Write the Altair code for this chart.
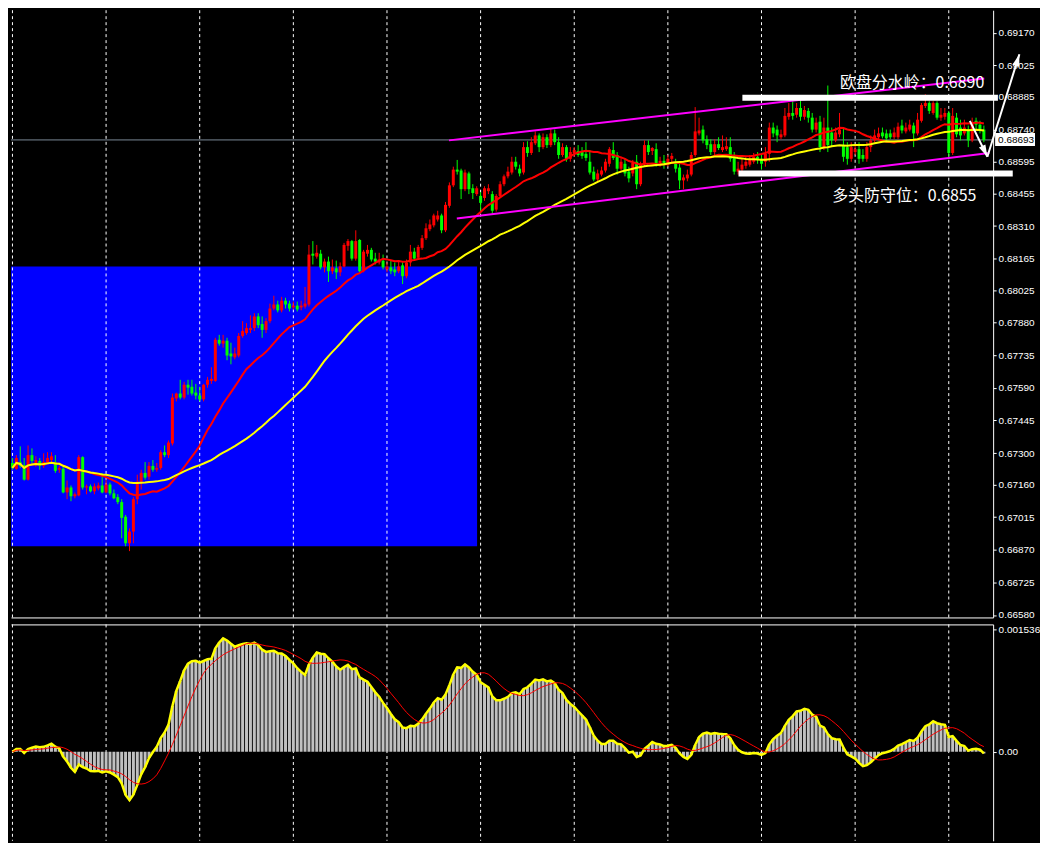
import altair as alt
import numpy as np
import pandas as pd

# ---------------- OHLC (bar index 0..249) ----------------
opens = [
    .67256, .67230, .67260, .67247, .67182, .67291, .67247, .67265, .67243, .67260,
    .67269, .67260, .67226, .67230, .67125, .67147, .67108, .67112, .67282, .67147,
    .67152, .67130, .67143, .67156, .67125, .67160, .67121, .67104, .67082, .67017,
    .66899, .66951, .67095, .67173, .67212, .67195, .67243, .67226, .67234, .67304,
    .67291, .67343, .67543, .67565, .67547, .67604, .67595, .67569, .67556, .67539,
    .67604, .67621, .67621, .67804, .67787, .67800, .67743, .67726, .67734, .67821,
    .67834, .67848, .67856, .67908, .67874, .67848, .67887, .67943, .67961, .67935,
    .67978, .67965, .67948, .67956, .67948, .67952, .67961, .68187, .68174, .68187,
    .68126, .68152, .68109, .68122, .68104, .68130, .68222, .68243, .68165, .68248,
    .68109, .68187, .68204, .68165, .68148, .68156, .68117, .68126, .68117, .68109,
    .68135, .68087, .68148, .68196, .68169, .68213, .68256, .68296, .68313, .68339,
    .68357, .68291, .68400, .68491, .68561, .68557, .68474, .68544, .68478, .68452,
    .68444, .68435, .68465, .68452, .68383, .68444, .68496, .68531, .68548, .68596,
    .68565, .68548, .68661, .68635, .68678, .68713, .68661, .68705, .68670, .68722,
    .68683, .68626, .68661, .68609, .68635, .68644, .68639, .68631, .68596, .68552,
    .68517, .68539, .68557, .68587, .68648, .68626, .68565, .68587, .68552, .68544,
    .68596, .68496, .68587, .68670, .68644, .68652, .68587, .68600, .68587, .68609,
    .68587, .68570, .68513, .68522, .68539, .68626, .68722, .68739, .68696, .68674,
    .68639, .68674, .68648, .68652, .68661, .68618, .68552, .68561, .68578, .68583,
    .68596, .68618, .68609, .68596, .68631, .68748, .68739, .68705, .68713, .68796,
    .68813, .68805, .68835, .68796, .68822, .68792, .68739, .68774, .68661, .68748,
    .68726, .68691, .68718, .68670, .68661, .68609, .68639, .68652, .68626, .68609,
    .68661, .68691, .68705, .68726, .68722, .68722, .68705, .68705, .68757, .68731,
    .68739, .68757, .68722, .68778, .68844, .68857, .68813, .68857, .68792, .68796,
    .68813, .68635, .68792, .68748, .68722, .68739, .68691, .68778, .68761, .68739,
]
highs = [
    .67278, .67291, .67330, .67278, .67334, .67321, .67286, .67278, .67299, .67304,
    .67304, .67291, .67243, .67247, .67178, .67156, .67125, .67291, .67286, .67160,
    .67160, .67165, .67169, .67212, .67182, .67169, .67138, .67117, .67095, .67025,
    .66965, .67104, .67204, .67226, .67260, .67260, .67269, .67256, .67313, .67334,
    .67356, .67565, .67569, .67626, .67617, .67626, .67626, .67608, .67595, .67608,
    .67639, .67682, .67813, .67826, .67826, .67813, .67791, .67769, .67834, .67887,
    .67878, .67913, .67922, .67922, .67908, .67900, .67965, .68000, .67978, .67995,
    .67991, .67978, .67974, .67974, .67978, .68039, .68226, .68243, .68226, .68204,
    .68165, .68174, .68161, .68156, .68148, .68235, .68252, .68248, .68291, .68252,
    .68204, .68226, .68213, .68191, .68191, .68183, .68148, .68156, .68148, .68152,
    .68148, .68161, .68226, .68213, .68226, .68270, .68322, .68339, .68365, .68378,
    .68365, .68417, .68504, .68574, .68604, .68565, .68561, .68552, .68496, .68487,
    .68461, .68487, .68496, .68465, .68452, .68509, .68539, .68574, .68618, .68618,
    .68583, .68683, .68687, .68705, .68731, .68722, .68722, .68718, .68744, .68739,
    .68705, .68678, .68670, .68661, .68661, .68670, .68661, .68683, .68648, .68574,
    .68561, .68574, .68609, .68661, .68683, .68639, .68618, .68609, .68574, .68604,
    .68626, .68596, .68691, .68691, .68661, .68678, .68618, .68626, .68626, .68635,
    .68609, .68596, .68539, .68561, .68639, .68839, .68792, .68757, .68713, .68696,
    .68696, .68705, .68713, .68705, .68705, .68639, .68596, .68609, .68618, .68626,
    .68635, .68639, .68626, .68661, .68770, .68770, .68757, .68739, .68835, .68857,
    .68870, .68857, .68870, .68844, .68835, .68813, .68792, .68800, .68792, .68935,
    .68748, .68748, .68813, .68748, .68683, .68683, .68670, .68683, .68652, .68683,
    .68713, .68739, .68748, .68748, .68739, .68739, .68748, .68770, .68783, .68770,
    .68783, .68770, .68813, .68857, .68896, .68865, .68865, .68865, .68835, .68835,
    .68822, .68835, .68813, .68783, .68783, .68757, .68792, .68792, .68778, .68757,
]
lows = [
    .67226, .67226, .67234, .67178, .67178, .67256, .67239, .67226, .67234, .67256,
    .67260, .67212, .67212, .67121, .67095, .67086, .67099, .67108, .67138, .67117,
    .67125, .67117, .67134, .67121, .67121, .67112, .67095, .67073, .66921, .66886,
    .66864, .66899, .67073, .67138, .67182, .67182, .67217, .67217, .67226, .67282,
    .67278, .67334, .67530, .67539, .67539, .67560, .67556, .67539, .67530, .67530,
    .67591, .67608, .67617, .67778, .67769, .67713, .67695, .67717, .67726, .67813,
    .67826, .67834, .67843, .67856, .67813, .67834, .67878, .67935, .67926, .67926,
    .67943, .67930, .67939, .67930, .67935, .67943, .67952, .68139, .68165, .68117,
    .68104, .68061, .68096, .68074, .68087, .68126, .68200, .68156, .68156, .68104,
    .68104, .68174, .68152, .68139, .68139, .68117, .68104, .68096, .68087, .68100,
    .68052, .68078, .68130, .68156, .68161, .68204, .68248, .68287, .68304, .68330,
    .68278, .68283, .68391, .68483, .68539, .68430, .68465, .68452, .68430, .68444,
    .68378, .68422, .68452, .68365, .68374, .68435, .68487, .68522, .68539, .68561,
    .68531, .68539, .68618, .68626, .68670, .68639, .68652, .68657, .68661, .68670,
    .68609, .68618, .68596, .68596, .68618, .68618, .68609, .68600, .68539, .68509,
    .68509, .68531, .68548, .68574, .68604, .68539, .68557, .68531, .68504, .68531,
    .68474, .68487, .68574, .68626, .68626, .68574, .68574, .68565, .68574, .68591,
    .68548, .68474, .68474, .68509, .68531, .68618, .68713, .68678, .68652, .68626,
    .68626, .68648, .68639, .68644, .68596, .68539, .68539, .68548, .68565, .68574,
    .68587, .68587, .68561, .68574, .68596, .68705, .68683, .68696, .68705, .68783,
    .68783, .68792, .68778, .68783, .68770, .68726, .68726, .68639, .68648, .68639,
    .68661, .68683, .68705, .68596, .68583, .68596, .68626, .68587, .68596, .68596,
    .68639, .68683, .68691, .68700, .68691, .68696, .68696, .68696, .68722, .68722,
    .68731, .68661, .68713, .68770, .68835, .68809, .68805, .68783, .68778, .68783,
    .68618, .68626, .68705, .68691, .68713, .68661, .68683, .68739, .68722, .68683,
]
closes = [
    .67234, .67278, .67243, .67182, .67291, .67265, .67269, .67243, .67260, .67278,
    .67286, .67221, .67234, .67125, .67147, .67108, .67117, .67282, .67147, .67152,
    .67130, .67152, .67156, .67125, .67160, .67121, .67099, .67082, .67012, .66899,
    .66951, .67095, .67173, .67212, .67191, .67243, .67226, .67234, .67304, .67291,
    .67347, .67547, .67565, .67547, .67604, .67591, .67565, .67556, .67539, .67604,
    .67626, .67630, .67804, .67787, .67800, .67734, .67730, .67743, .67821, .67843,
    .67856, .67856, .67908, .67869, .67848, .67887, .67943, .67961, .67935, .67978,
    .67961, .67943, .67956, .67939, .67956, .67965, .68183, .68178, .68191, .68126,
    .68152, .68109, .68126, .68104, .68130, .68226, .68243, .68165, .68243, .68109,
    .68196, .68204, .68161, .68152, .68161, .68126, .68130, .68109, .68104, .68130,
    .68087, .68148, .68196, .68165, .68217, .68256, .68300, .68317, .68357, .68357,
    .68291, .68404, .68491, .68561, .68552, .68474, .68548, .68474, .68457, .68478,
    .68413, .68478, .68478, .68378, .68444, .68496, .68531, .68552, .68596, .68574,
    .68544, .68661, .68635, .68683, .68713, .68661, .68705, .68670, .68722, .68683,
    .68626, .68661, .68609, .68639, .68648, .68626, .68622, .68613, .68548, .68517,
    .68544, .68557, .68596, .68652, .68613, .68565, .68596, .68544, .68522, .68591,
    .68496, .68587, .68670, .68639, .68657, .68587, .68600, .68583, .68609, .68622,
    .68565, .68513, .68526, .68539, .68626, .68731, .68735, .68691, .68670, .68639,
    .68674, .68657, .68661, .68665, .68609, .68552, .68565, .68583, .68596, .68604,
    .68618, .68604, .68587, .68631, .68748, .68722, .68713, .68718, .68800, .68813,
    .68800, .68835, .68796, .68826, .68792, .68739, .68770, .68661, .68748, .68670,
    .68691, .68726, .68739, .68618, .68609, .68661, .68652, .68609, .68609, .68661,
    .68691, .68713, .68722, .68709, .68700, .68705, .68726, .68752, .68735, .68748,
    .68761, .68722, .68783, .68848, .68857, .68822, .68857, .68792, .68805, .68813,
    .68635, .68800, .68718, .68713, .68748, .68691, .68770, .68761, .68739, .68693,
]

# ---------------- axis labels, grid ----------------
price_ticks = [0.69170, 0.69025, 0.68885, 0.68740, 0.68595, 0.68455, 0.68310,
               0.68165, 0.68025, 0.67880, 0.67735, 0.67590, 0.67445, 0.67300,
               0.67160, 0.67015, 0.66870, 0.66725, 0.66580]
macd_ticks = [0.001536, 0.0]
grid_bars = [0, 24, 48, 72, 96, 120, 144, 168, 192, 216, 240]

# ---------------- drawn objects (bar index / price anchors) ----------------
box_bars = [-0.375, 119.1]
box_prices = [0.66886, 0.68130]

channel_names = ["upper", "lower"]
channel_bars = [[111.9, 249.1], [113.9, 250.4]]
channel_prices = [[0.68691, 0.68966], [0.68343, 0.68635]]

level_bars = [[187.1, 252.6], [186.1, 256.4]]
level_prices = [0.68881, 0.68544]

note_texts = ["欧盘分水岭：0.6890", "多头防守位：0.6855"]
note_bars = [249.1, 247.1]
note_prices = [0.68944, 0.68444]

arrow_from_bars = [245.4, 249.9]
arrow_from_prices = [0.68778, 0.68618]
arrow_to_bars = [249.9, 258.1]
arrow_to_prices = [0.68618, 0.69074]
arrow_angles = [154, 17]

n = len(closes)
assert len(opens) == n and len(highs) == n and len(lows) == n

df = pd.DataFrame({"bar": list(range(n)), "open": opens, "high": highs,
                   "low": lows, "close": closes})
df["dir"] = np.where(df["close"] >= df["open"], "up", "down")

# MACD (12, 26, 9) from the closes, as MT4 computes it
cs = pd.Series(closes)
macd = cs.ewm(span=12, adjust=False).mean() - cs.ewm(span=26, adjust=False).mean()
signal = macd.rolling(9, min_periods=1).mean()
mdf = pd.DataFrame({"bar": list(range(n)), "macd": macd, "signal": signal, "zero": 0.0})

W = 985
H1 = 609
H2 = 217

LABEL_FONT = "Liberation Sans"

xscale = alt.Scale(domain=[-0.375, 251.375], nice=False, zero=False, padding=0)
pscale = alt.Scale(domain=[0.66569, 0.69270], nice=False, zero=False, padding=0)
mscale = alt.Scale(domain=[-0.00112, 0.0016], nice=False, zero=False, padding=0)
cscale = alt.Scale(domain=["up", "down"], range=["#ff0000", "#00ff00"])

AX_X_MAIN = alt.Axis(orient="bottom", labels=False, ticks=False, grid=False, title=None,
                     domain=True, domainColor="white", domainWidth=1)
AX_Y_MAIN = alt.Axis(orient="right", values=price_ticks, format=".5f", grid=False, title=None,
                     tickSize=3, tickColor="white", domain=True, domainColor="white",
                     labelColor="white", labelFont=LABEL_FONT, labelFontSize=10,
                     labelPadding=2)
AX_X_MACD = alt.Axis(orient="top", labels=False, ticks=False, grid=False, title=None,
                     domain=True, domainColor="white", domainWidth=1)
AX_Y_MACD = alt.Axis(orient="right", values=macd_ticks, grid=False, title=None,
                     labelExpr="datum.value == 0 ? '0.00' : format(datum.value, '.6f')",
                     tickSize=3, tickColor="white", domain=True, domainColor="white",
                     labelColor="white", labelFont=LABEL_FONT, labelFontSize=10,
                     labelPadding=2)


def X(field):
    return alt.X(field, scale=xscale, axis=AX_X_MAIN)


def P(field):
    return alt.Y(field, scale=pscale, axis=AX_Y_MAIN)


def XM(field):
    return alt.X(field, scale=xscale, axis=AX_X_MACD)


def M(field):
    return alt.Y(field, scale=mscale, axis=AX_Y_MACD)


# ---------------- main window ----------------
box_df = pd.DataFrame({"x0": [box_bars[0]], "x1": [box_bars[1]],
                       "p0": [box_prices[0]], "p1": [box_prices[1]]})
blue = alt.Chart(box_df).mark_rect(color="#0000ff").encode(
    x=X("x0:Q"), x2="x1:Q", y=P("p0:Q"), y2="p1:Q")

grid_df = pd.DataFrame({"bar": grid_bars})
grid_main = alt.Chart(grid_df).mark_rule(color="white", strokeDash=[3, 3], strokeWidth=1).encode(
    x=X("bar:Q"))

last_df = pd.DataFrame({"p": [closes[-1]], "label": [f"{closes[-1]:.5f}"]})
price_line = alt.Chart(last_df).mark_rule(color="#7a8896", strokeWidth=1).encode(y=P("p:Q"))

base = alt.Chart(df)
wicks = base.mark_rule(strokeWidth=1).encode(
    x=X("bar:Q"), y=P("low:Q"), y2="high:Q",
    color=alt.Color("dir:N", scale=cscale, legend=None))
bodies = base.mark_bar(size=3).encode(
    x=X("bar:Q"), y=P("open:Q"), y2="close:Q",
    color=alt.Color("dir:N", scale=cscale, legend=None))

ma_base = base.transform_window(
    ma20="mean(close)", frame=[-19, 0], sort=[alt.SortField("bar")]
).transform_window(
    ma50="mean(close)", frame=[-49, 0], sort=[alt.SortField("bar")])
ma_red = ma_base.mark_line(color="#ff0000", strokeWidth=2).encode(x=X("bar:Q"), y=P("ma20:Q"))
ma_yellow = ma_base.mark_line(color="#ffff00", strokeWidth=2).encode(x=X("bar:Q"), y=P("ma50:Q"))

ch_rows = []
for name, bs, ps in zip(channel_names, channel_bars, channel_prices):
    for b, p in zip(bs, ps):
        ch_rows.append({"id": name, "bar": b, "p": p})
channel = alt.Chart(pd.DataFrame(ch_rows)).mark_line(color="#ff00ff", strokeWidth=2).encode(
    x=X("bar:Q"), y=P("p:Q"), detail="id:N")

lv_df = pd.DataFrame({"x0": [b[0] for b in level_bars], "x1": [b[1] for b in level_bars],
                      "p": level_prices})
levels = alt.Chart(lv_df).mark_rule(color="white", strokeWidth=6).encode(
    x=X("x0:Q"), x2="x1:Q", y=P("p:Q"))

ar_df = pd.DataFrame({"x0": arrow_from_bars, "p0": arrow_from_prices,
                      "x1": arrow_to_bars, "p1": arrow_to_prices, "ang": arrow_angles})
arrow_lines = alt.Chart(ar_df).mark_rule(color="white", strokeWidth=2).encode(
    x=X("x0:Q"), y=P("p0:Q"), x2="x1:Q", y2="p1:Q")
arrow_heads = alt.Chart(ar_df).mark_point(
    shape="M0,0 L0.6,2 L-0.6,2 Z", filled=True, color="white", opacity=1, size=144,
    strokeWidth=0).encode(
    x=X("x1:Q"), y=P("p1:Q"), angle=alt.Angle("ang:Q", scale=None))

nt_df = pd.DataFrame({"bar": note_bars, "p": note_prices, "t": note_texts})
notes = alt.Chart(nt_df).mark_text(align="right", baseline="middle", color="white",
                                   font="Noto Sans CJK SC", fontSize=16).encode(
    x=X("bar:Q"), y=P("p:Q"), text="t:N")

price_box = alt.Chart(last_df).mark_rect(color="white", yOffset=-7, y2Offset=6).encode(
    x=alt.value(W + 2), x2=alt.value(W + 42), y=P("p:Q"), y2="p:Q")
price_text = alt.Chart(last_df).mark_text(align="left", baseline="middle", color="black",
                                          font=LABEL_FONT, fontSize=10).encode(
    x=alt.value(W + 5), y=P("p:Q"), text="label:N")

main = alt.layer(
    blue, grid_main, price_line, wicks, bodies, ma_red, ma_yellow,
    channel, levels, arrow_lines, arrow_heads, notes, price_box, price_text
).properties(width=W, height=H1)

# ---------------- MACD window ----------------
mbase = alt.Chart(mdf)
grid_macd = alt.Chart(grid_df).mark_rule(color="white", strokeDash=[3, 3], strokeWidth=1).encode(
    x=XM("bar:Q"))
hist = mbase.mark_bar(size=3, color="#c0c0c0", clip=True).encode(
    x=XM("bar:Q"), y=M("macd:Q"), y2="zero:Q")
macd_line = mbase.mark_line(color="#ffff00", strokeWidth=2.5, clip=True).encode(
    x=XM("bar:Q"), y=M("macd:Q"))
sig_line = mbase.mark_line(color="#ff0000", strokeWidth=1, clip=True).encode(
    x=XM("bar:Q"), y=M("signal:Q"))

macd_panel = alt.layer(grid_macd, hist, macd_line, sig_line).properties(width=W, height=H2)

chart = alt.vconcat(main, macd_panel, spacing=3).configure(
    background="black", padding=0
).configure_view(stroke=None)

chart.save("out.html", embed_options={"renderer": "svg", "actions": False})
